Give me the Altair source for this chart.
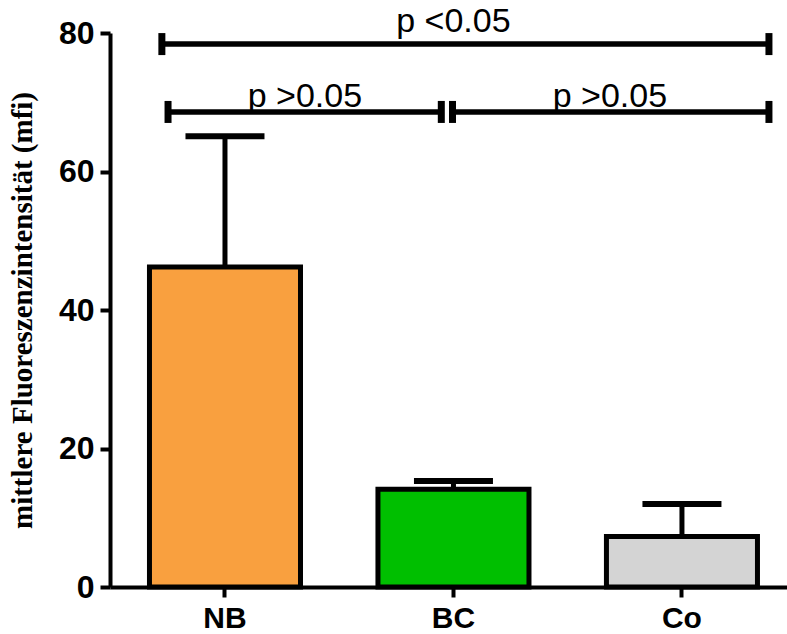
import altair as alt
import pandas as pd

# Group means and standard deviations (mfi)
groups = ["NB", "BC", "Co"]
means = [46.2, 14.1, 7.3]
sds = [18.9, 1.2, 4.7]
fills = ["#F9A03F", "#00BF00", "#D4D4D4"]

# Significance brackets, positions in category units (NB = 0, BC = 1, Co = 2)
br_start = [-0.276, -0.249, 0.996]
br_end = [2.381, 0.947, 2.381]
br_level = [78.4, 68.6, 68.6]
br_text = ["p <0.05", "p >0.05", "p >0.05"]
br_text_x = [1.0, 0.35, 1.685]
br_text_y = [80.2, 69.3, 69.3]

bars_df = pd.DataFrame({"group": groups, "mean": means, "sd": sds, "fill": fills})
br_df = pd.DataFrame({"start": br_start, "end": br_end, "level": br_level})
caps_df = pd.DataFrame({"pos": br_start + br_end, "level": br_level + br_level})
txt_df = pd.DataFrame({"label": br_text, "x": br_text_x, "y": br_text_y})

SANS = "Liberation Sans"
SERIF = "Liberation Serif"

x_band = alt.X(
    "group:N",
    sort=groups,
    title=None,
    scale=alt.Scale(paddingInner=0.339, paddingOuter=0.151, align=0.572),
    axis=alt.Axis(
        labelFont=SANS, labelFontSize=30, labelFontWeight="bold", labelColor="black",
        labelAngle=0, labelPadding=6,
        domainColor="black", domainWidth=4,
        tickColor="black", tickWidth=4, tickSize=10,
    ),
)
y_scale = alt.Scale(domain=[0, 80], nice=False)
y_axis = alt.Axis(
    values=[0, 20, 40, 60, 80], grid=False,
    labelFont=SANS, labelFontSize=32, labelFontWeight="bold", labelColor="black",
    labelPadding=6,
    domainColor="black", domainWidth=4,
    tickColor="black", tickWidth=4, tickSize=10,
    title="mittlere Fluoreszenzintensität (mfi)",
    titleFont=SERIF, titleFontSize=29, titleFontWeight="bold", titleColor="black",
    titlePadding=21,
)

base = alt.Chart(bars_df).transform_calculate(upper="datum.mean + datum.sd")

err_line = base.mark_rule(color="black", strokeWidth=5).encode(
    x=x_band,
    y=alt.Y("mean:Q", scale=y_scale, axis=y_axis),
    y2="upper:Q",
)
err_cap = base.mark_tick(
    color="black", opacity=1, size=79, thickness=6, orient="horizontal"
).encode(
    x=x_band,
    y=alt.Y("upper:Q", scale=y_scale),
)
bars = base.mark_bar(stroke="black", strokeWidth=5, opacity=1).encode(
    x=x_band,
    y=alt.Y("mean:Q", scale=y_scale, axis=y_axis),
    fill=alt.Fill("fill:N", scale=None),
)

x_pos = alt.Scale(domain=[-0.503, 2.46], nice=False, zero=False)

br_lines = alt.Chart(br_df).mark_rule(color="black", strokeWidth=5.5).encode(
    x=alt.X("start:Q", scale=x_pos, axis=None),
    x2="end:Q",
    y=alt.Y("level:Q", scale=y_scale),
)
br_caps = alt.Chart(caps_df).mark_tick(
    color="black", opacity=1, size=22, thickness=7, orient="vertical"
).encode(
    x=alt.X("pos:Q", scale=x_pos, axis=None),
    y=alt.Y("level:Q", scale=y_scale),
)
br_labels = alt.Chart(txt_df).mark_text(
    font=SANS, fontSize=34, color="black", baseline="alphabetic", align="center"
).encode(
    x=alt.X("x:Q", scale=x_pos, axis=None),
    y=alt.Y("y:Q", scale=y_scale),
    text="label:N",
)

cat_layer = alt.layer(err_line, err_cap, bars)
sig_layer = alt.layer(br_lines, br_caps, br_labels)

chart = (
    alt.layer(cat_layer, sig_layer)
    .resolve_scale(x="independent")
    .properties(
        width=677,
        height=554,
        autosize=alt.AutoSizeParams(type="none"),
        padding={"left": 110, "top": 33, "right": 0, "bottom": 47},
        background="white",
    )
    .configure_view(stroke=None)
)

chart.save("out.html", embed_options={"renderer": "svg", "actions": False})
